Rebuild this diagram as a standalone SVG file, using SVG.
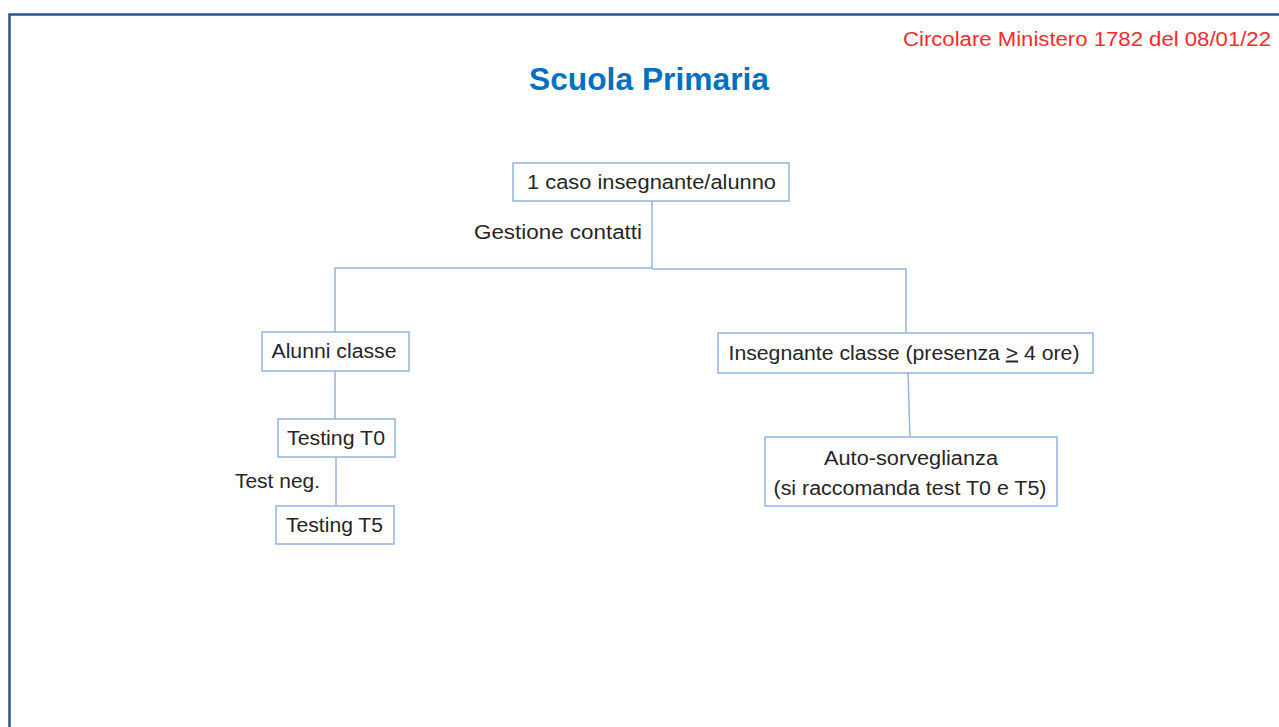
<svg xmlns="http://www.w3.org/2000/svg" width="1279" height="727" viewBox="0 0 1279 727">
<style>
.box{fill:#fff;stroke:#95B3DD;stroke-width:1.5}
.con{fill:none;stroke:#95B3DD;stroke-width:1.5}
.t{font-family:"Liberation Sans",Arial,sans-serif;font-size:20px;fill:#262626;text-anchor:middle}
.lbl{font-family:"Liberation Sans",Arial,sans-serif;font-size:20px;fill:#262626}
</style>
<rect width="1279" height="727" fill="#fff"/>
<path d="M9.5 727 V14.5 H1279" fill="none" stroke="#2E528F" stroke-width="2.5"/>
<text x="903" y="46" font-family="Liberation Sans,Arial,sans-serif" font-size="20" fill="#FF2A2A" textLength="368" lengthAdjust="spacingAndGlyphs">Circolare Ministero 1782 del 08/01/22</text>
<text x="649" y="90" font-family="Liberation Sans,Arial,sans-serif" font-size="31" font-weight="bold" fill="#0070C0" text-anchor="middle" textLength="240" lengthAdjust="spacingAndGlyphs">Scuola Primaria</text>
<g id="connectors">
<path class="con" d="M652 201 V268"/>
<path class="con" d="M335 332 V268 H652"/>
<path class="con" d="M652 269 H906 V333"/>
<path class="con" d="M335 371 V419"/>
<path class="con" d="M336 457 V506"/>
<path class="con" d="M908 373 L910 437"/>
<text class="lbl" x="474" y="239" textLength="168" lengthAdjust="spacingAndGlyphs">Gestione contatti</text>
<text class="lbl" x="235" y="488" textLength="85" lengthAdjust="spacingAndGlyphs">Test neg.</text>
</g>
<g id="node-caso">
<rect class="box" x="513" y="163" width="276" height="38"/>
<text class="t" x="651.5" y="189" textLength="249" lengthAdjust="spacingAndGlyphs">1 caso insegnante/alunno</text>
</g>
<g id="node-alunni">
<rect class="box" x="262" y="332" width="147" height="39"/>
<text class="t" x="334" y="358" textLength="125" lengthAdjust="spacingAndGlyphs">Alunni classe</text>
</g>
<g id="node-insegnante">
<rect class="box" x="718" y="333" width="375" height="40"/>
<text class="t" x="904" y="359.5" textLength="351" lengthAdjust="spacingAndGlyphs">Insegnante classe (presenza <tspan text-decoration="underline">&gt;</tspan> 4 ore)</text>
</g>
<g id="node-t0">
<rect class="box" x="278" y="419" width="117" height="38"/>
<text class="t" x="336" y="444.5" textLength="98" lengthAdjust="spacingAndGlyphs">Testing T0</text>
</g>
<g id="node-t5">
<rect class="box" x="276" y="506" width="118" height="38"/>
<text class="t" x="334.5" y="531.5" textLength="97" lengthAdjust="spacingAndGlyphs">Testing T5</text>
</g>
<g id="node-auto">
<rect class="box" x="765" y="437" width="292" height="69"/>
<text class="t" x="911" y="465" textLength="174" lengthAdjust="spacingAndGlyphs">Auto-sorveglianza</text>
<text class="t" x="910" y="495" textLength="273" lengthAdjust="spacingAndGlyphs">(si raccomanda test T0 e T5)</text>
</g>
</svg>
